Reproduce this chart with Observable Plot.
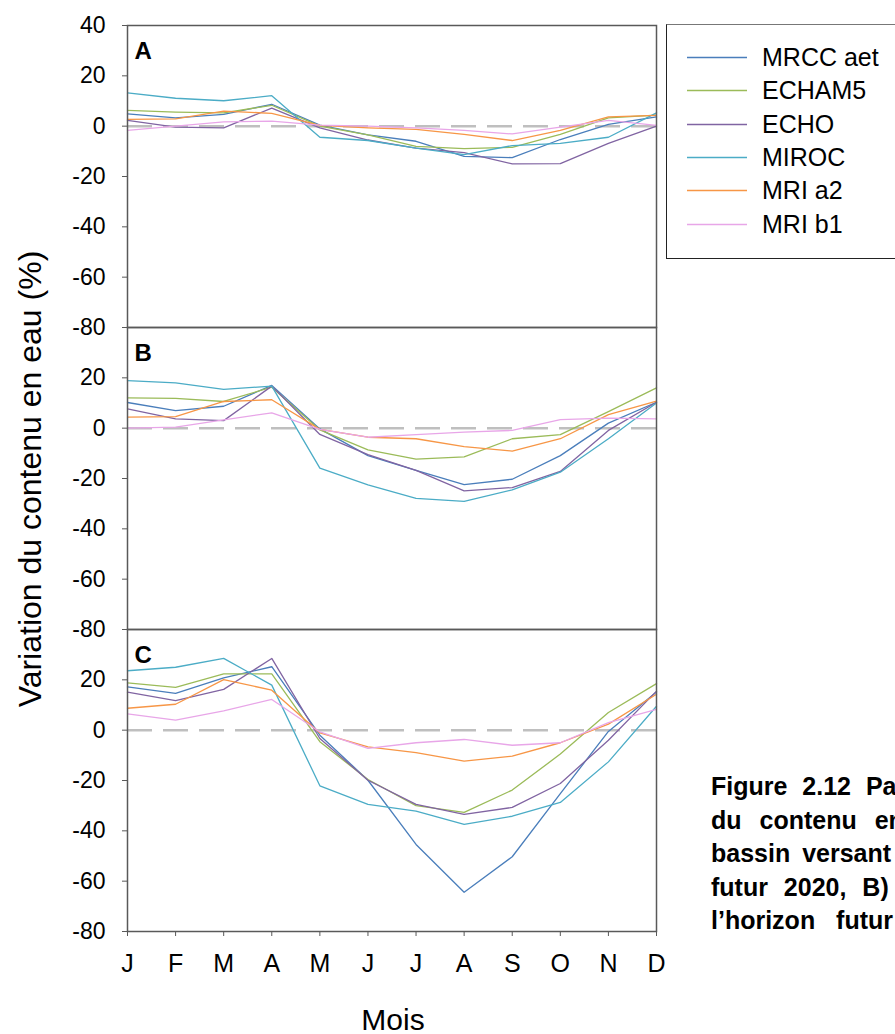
<!DOCTYPE html>
<html>
<head>
<meta charset="utf-8">
<script src="https://cdn.jsdelivr.net/npm/d3@7"></script>
<script src="https://cdn.jsdelivr.net/npm/@observablehq/plot@0.6"></script>
<style>
  html, body { margin: 0; padding: 0; background: #fff; }
  body { width: 895px; height: 1034px; overflow: hidden; position: relative; font-family: Arial, "Liberation Sans", sans-serif; }
  #chart { position: absolute; left: 0; top: 0; }
  #ytitle { position: absolute; left: 30px; top: 479px; transform: translate(-50%, -50%) rotate(-90deg); white-space: nowrap; font-size: 32px; color: #000; }
  #xtitle { position: absolute; left: 393px; top: 1020px; transform: translate(-50%, -50%); white-space: nowrap; font-size: 30px; color: #000; }
  #legend { position: absolute; left: 666px; top: 24px; width: 260px; height: 235px; border: 1.5px solid #222; border-top-color: #777; box-sizing: border-box; background: #fff; }
  .lg { position: absolute; left: 0; height: 30px; width: 260px; }
  .lg svg { position: absolute; left: 20px; top: 14px; }
  .lg span { position: absolute; left: 95px; top: 0; font-size: 25px; line-height: 30px; white-space: nowrap; color: #000; }
  #caption { position: absolute; left: 711px; top: 770px; font-size: 25px; font-weight: bold; line-height: 33.5px; color: #000; }
  #caption div { white-space: nowrap; }
</style>
</head>
<body>
<div id="chart"></div>
<div id="ytitle">Variation du contenu en eau (%)</div>
<div id="xtitle">Mois</div>
<div id="legend"></div>
<div id="caption"></div>
<script>
// ---- Data ----
const months = ["J","F","M","A","M","J","J","A","S","O","N","D"];
const models = ["MRCC aet","ECHAM5","ECHO","MIROC","MRI a2","MRI b1"];
const colors = ["#4A7EBB","#9BBB59","#8064A2","#4BACC6","#F79646","#E8A6E8"];
const panels = ["A","B","C"];
const yTicks = [20, 0, -20, -40, -60, -80];
const yTopTicks = [40];

// Panel A
const a_mrcc   = [4.9, 3.3, 4.7, 8.7, 0.4, -3.5, -6.0, -12.0, -12.5, -5.3, 0.7, 3.7];
const a_echam5 = [6.3, 5.6, 5.3, 8.3, 0.0, -3.5, -8.0, -8.9, -8.4, -3.3, 3.3, 4.4];
const a_echo   = [2.3, -0.4, -0.7, 7.2, -0.7, -5.5, -8.7, -10.5, -15.0, -14.9, -6.8, 0.0];
const a_miroc  = [13.2, 11.1, 10.1, 12.1, -4.4, -5.7, -8.7, -11.3, -7.7, -6.8, -4.4, 5.3];
const a_mria2  = [2.7, 2.9, 6.0, 5.1, 0.3, -0.7, -1.3, -3.3, -5.7, -1.7, 3.7, 4.3];
const a_mrib1  = [-1.7, 0.0, 1.7, 2.0, 0.4, 0.0, -0.7, -1.7, -3.1, -0.4, 2.3, 0.3];

// Panel B
const b_mrcc   = [10.2, 7.0, 8.7, 17.0, -0.3, -10.9, -16.8, -22.4, -20.3, -10.9, 2.0, 10.3];
const b_echam5 = [12.0, 11.8, 10.6, 16.3, -0.7, -8.6, -12.3, -11.4, -4.2, -2.6, 6.6, 16.0];
const b_echo   = [7.7, 3.7, 3.0, 16.7, -2.5, -10.5, -16.8, -24.9, -23.6, -17.2, -0.9, 10.3];
const b_miroc  = [18.9, 18.0, 15.4, 16.7, -15.9, -22.5, -27.9, -29.1, -24.5, -17.5, -4.2, 10.0];
const b_mria2  = [4.4, 4.6, 10.6, 11.3, -0.5, -3.6, -4.2, -7.3, -9.1, -4.2, 5.4, 10.7];
const b_mrib1  = [0.0, 0.4, 3.3, 6.1, -0.5, -3.6, -2.6, -1.6, -0.9, 3.4, 4.0, 3.7];

// Panel C
const c_mrcc   = [17.2, 14.6, 20.8, 25.2, -2.0, -19.9, -45.4, -64.4, -50.3, -25.2, -0.5, 15.2];
const c_echam5 = [18.8, 17.0, 22.4, 22.4, -4.6, -19.6, -30.0, -32.7, -23.8, -9.5, 7.0, 18.5];
const c_echo   = [15.1, 11.7, 16.2, 28.5, -3.3, -19.9, -29.5, -33.5, -30.7, -21.2, -4.0, 15.5];
const c_miroc  = [23.6, 25.0, 28.5, 17.9, -22.1, -29.5, -32.2, -37.4, -34.2, -28.7, -12.6, 9.5];
const c_mria2  = [8.7, 10.3, 20.1, 15.9, -1.1, -6.6, -8.9, -12.3, -10.3, -5.0, 2.4, 14.3];
const c_mrib1  = [6.5, 4.0, 7.7, 12.2, -0.7, -7.2, -5.0, -3.7, -6.0, -5.0, 3.0, 8.3];

const captionLines = [
  "Figure 2.12 Patron de variation mensuelle",
  "du contenu en eau du sol sur le",
  "bassin versant pour A) l'horizon",
  "futur 2020, B) l'horizon futur 2050 et C)",
  "l\u2019horizon futur 2080."
];
const captionSpacing = [8, 11, 5, 9, 14];

// ---- Build table ----
const series = [
  [a_mrcc, a_echam5, a_echo, a_miroc, a_mria2, a_mrib1],
  [b_mrcc, b_echam5, b_echo, b_miroc, b_mria2, b_mrib1],
  [c_mrcc, c_echam5, c_echo, c_miroc, c_mria2, c_mrib1]
];
const rows = [];
panels.forEach((p, pi) => models.forEach((m, mi) => series[pi][mi].forEach((v, i) => rows.push({panel: p, model: m, month: i, value: v}))));

const fontFamily = "Arial, 'Liberation Sans', sans-serif";
const axisStyle = {anchor: "left", tickSize: 5, tickPadding: 17, tickFormat: d => String(d), stroke: "#595959", fill: "#000", fontSize: 23, label: null};

const chart = Plot.plot({
  width: 895,
  height: 1034,
  marginLeft: 127,
  marginRight: 239,
  marginTop: 24,
  marginBottom: 102,
  style: {fontFamily, fontSize: "23px", color: "#000", background: "transparent", overflow: "visible"},
  x: {domain: [0, 11]},
  y: {domain: [-80, 40]},
  fy: {domain: panels, padding: 0, axis: null},
  color: {domain: models, range: colors},
  marks: [
    Plot.ruleY([0], {stroke: "#bfbfbf", strokeWidth: 2.5, strokeDasharray: "25,11"}),
    Plot.line(rows, {x: "month", y: "value", z: "model", stroke: "model", fy: "panel", strokeWidth: 1.3}),
    Plot.frame({stroke: "#595959", strokeWidth: 1.5}),
    Plot.axisY(yTicks, axisStyle),
    Plot.axisY(yTopTicks, {...axisStyle, facetAnchor: "top"}),
    Plot.axisX(d3.range(12), {anchor: "bottom", tickSize: 5, tickPadding: 18, tickFormat: i => months[i], stroke: "#595959", fill: "#000", fontSize: 25, label: null}),
    Plot.text(panels, {fy: d => d, text: d => d, frameAnchor: "top-left", dx: 7, dy: 16, fontWeight: "bold", fontSize: 24})
  ]
});
document.getElementById("chart").appendChild(chart);

// ---- Legend ----
const legend = document.getElementById("legend");
models.forEach((m, i) => {
  const row = document.createElement("div");
  row.className = "lg";
  row.style.top = (17 + i * 33.3) + "px";
  row.innerHTML = `<svg width="62" height="4"><line x1="0" x2="60" y1="1.5" y2="1.5" stroke="${colors[i]}" stroke-width="1.5"/></svg><span>${m}</span>`;
  legend.appendChild(row);
});

// ---- Caption ----
const cap = document.getElementById("caption");
captionLines.forEach((t, i) => {
  const d = document.createElement("div");
  d.textContent = t;
  d.style.wordSpacing = captionSpacing[i] + "px";
  cap.appendChild(d);
});
</script>
</body>
</html>
